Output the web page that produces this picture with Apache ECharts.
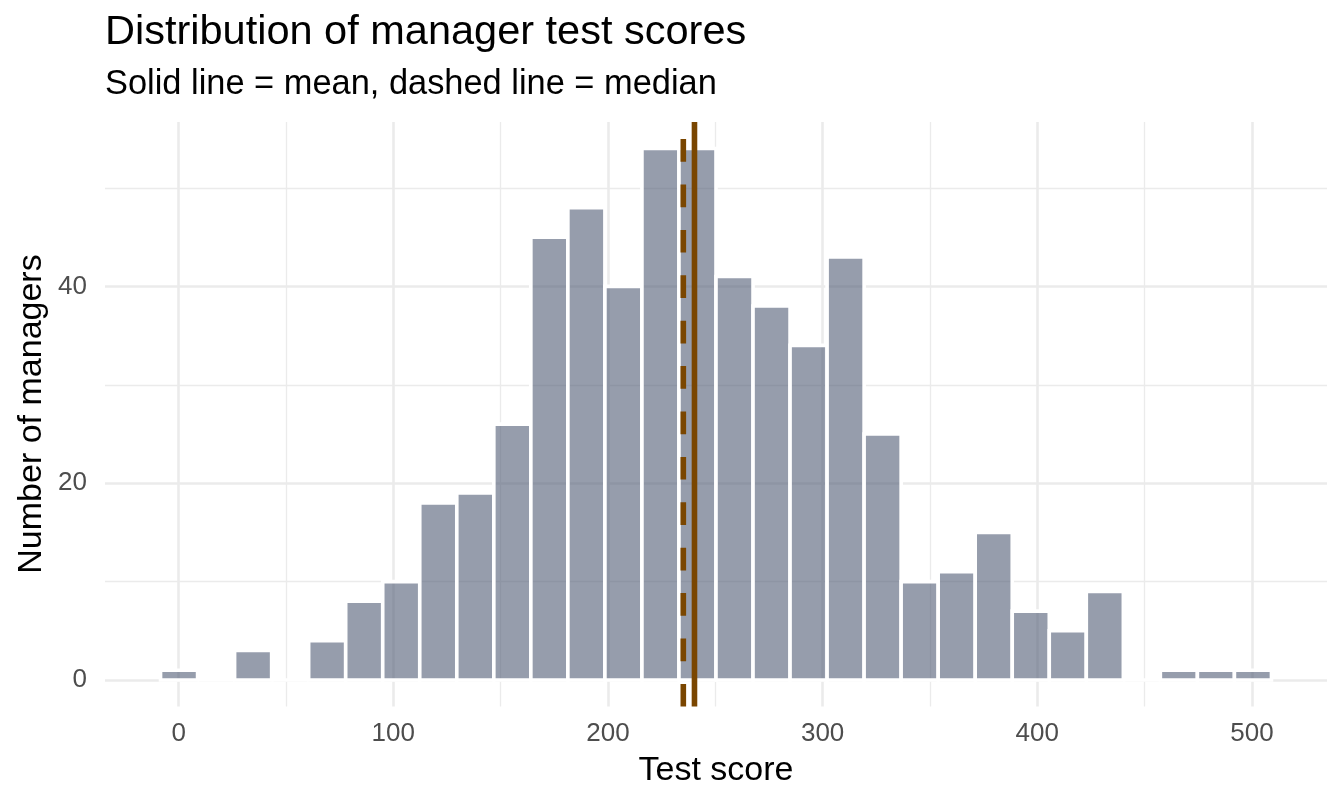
<!DOCTYPE html>
<html>
<head>
<meta charset="utf-8">
<script src="https://cdn.jsdelivr.net/npm/echarts@6/dist/echarts.min.js"></script>
<style>
html,body{margin:0;padding:0;background:#fff;}
#chart{width:1344px;height:806px;}
</style>
</head>
<body>
<div id="chart"></div>
<script>
// ---- data ----
const binCenters = [0.2, 17.45, 34.7, 51.95, 69.2, 86.45, 103.7, 120.95, 138.2, 155.45,
  172.7, 189.95, 207.2, 224.45, 241.7, 258.95, 276.2, 293.45, 310.7, 327.95,
  345.2, 362.45, 379.7, 396.95, 414.2, 431.45, 448.7, 465.95, 483.2, 500.45];
const binCounts = [1, 0, 3, 0, 4, 8, 10, 18, 19, 26,
  45, 48, 40, 54, 54, 41, 38, 34, 43, 25,
  10, 11, 15, 7, 5, 9, 0, 1, 1, 1];
const binWidth = 17.25;
const meanScore = 240.3;
const medianScore = 235.1;
const xTicks = [0, 100, 200, 300, 400, 500];
const yTicks = [0, 20, 40];

const titleText = 'Distribution of manager test scores';
const subtitleText = 'Solid line = mean, dashed line = median';
const xTitle = 'Test score';
const yTitle = 'Number of managers';

const X_MIN = -34.3, X_MAX = 534.95, Y_MIN = -2.7, Y_MAX = 56.7;
const FONT = '"Liberation Sans", Arial, Helvetica, sans-serif';
const GRID = {left: 105, right: 17, top: 122, bottom: 99.4};

const chart = echarts.init(document.getElementById('chart'), null, {renderer: 'canvas'});

const histData = binCenters.map((c, i) => [c, binCounts[i]]);

function renderBar(params, api) {
  const c = api.value(0), n = api.value(1);
  const p0 = api.coord([c - binWidth / 2, 0]);
  const p1 = api.coord([c + binWidth / 2, n]);
  if (n === 0) {
    return {
      type: 'line',
      shape: {x1: p0[0], y1: p0[1], x2: p1[0], y2: p0[1]},
      style: {stroke: '#ffffff', lineWidth: 3.6}
    };
  }
  return {
    type: 'rect',
    shape: {x: p0[0], y: p1[1], width: p1[0] - p0[0], height: p0[1] - p1[1]},
    style: {fill: 'rgba(80,92,117,0.6)', stroke: '#ffffff', lineWidth: 3.6}
  };
}

const gridColor = '#ebebeb';

const option = {
  backgroundColor: '#ffffff',
  animation: false,
  grid: GRID,
  xAxis: {
    type: 'value', min: X_MIN, max: X_MAX,
    minInterval: 100, maxInterval: 100, splitNumber: 5,
    axisLine: {show: false}, axisTick: {show: false},
    axisLabel: {
      show: true, margin: 14, color: '#4d4d4d', fontSize: 26, fontFamily: FONT,
      showMinLabel: false, showMaxLabel: false,
      formatter: v => (xTicks.indexOf(Math.round(v * 1000) / 1000) >= 0 ? String(v) : '')
    },
    splitLine: {show: true, showMinLine: false, showMaxLine: false, lineStyle: {color: gridColor, width: 2.6}},
    minorTick: {show: false, splitNumber: 2},
    minorSplitLine: {show: true, lineStyle: {color: gridColor, width: 1.3}}
  },
  yAxis: {
    type: 'value', min: Y_MIN, max: Y_MAX,
    minInterval: 20, maxInterval: 20, splitNumber: 3,
    axisLine: {show: false}, axisTick: {show: false},
    axisLabel: {
      show: true, margin: 18, color: '#4d4d4d', fontSize: 26, fontFamily: FONT,
      showMinLabel: false, showMaxLabel: false,
      formatter: v => (yTicks.indexOf(Math.round(v * 1000) / 1000) >= 0 ? String(v) : '')
    },
    splitLine: {show: true, showMinLine: false, showMaxLine: false, lineStyle: {color: gridColor, width: 2.6}},
    minorTick: {show: false, splitNumber: 2},
    minorSplitLine: {show: true, lineStyle: {color: gridColor, width: 1.3}}
  },
  series: [
    {
      type: 'custom',
      renderItem: renderBar,
      data: histData,
      encode: {x: 0, y: 1},
      clip: false,
      z: 2
    },
    {
      type: 'line',
      data: [[medianScore, Y_MIN], [medianScore, Y_MAX]],
      symbol: 'none',
      lineStyle: {color: '#7a4600', width: 5.6, type: [22.7, 22.7], cap: 'butt'},
      clip: false, silent: true, z: 3
    },
    {
      type: 'line',
      data: [[meanScore, Y_MIN], [meanScore, Y_MAX]],
      symbol: 'none',
      lineStyle: {color: '#7a4600', width: 5.6, cap: 'butt'},
      clip: false, silent: true, z: 3
    }
  ],
  graphic: [
    {type: 'text', left: 105, top: 12, style: {text: titleText, font: '41.5px ' + FONT, fill: '#000000'}},
    {type: 'text', left: 105, top: 67.5, style: {text: subtitleText, font: '34.4px ' + FONT, fill: '#000000'}},
    {type: 'text', x: 716, y: 771, style: {text: xTitle, font: '34px ' + FONT, fill: '#000000', align: 'center', verticalAlign: 'middle'}},
    {type: 'text', x: 32, y: 414, rotation: Math.PI / 2, style: {text: yTitle, font: '34px ' + FONT, fill: '#000000', align: 'center', verticalAlign: 'middle'}}
  ]
};

chart.setOption(option);
</script>
</body>
</html>
